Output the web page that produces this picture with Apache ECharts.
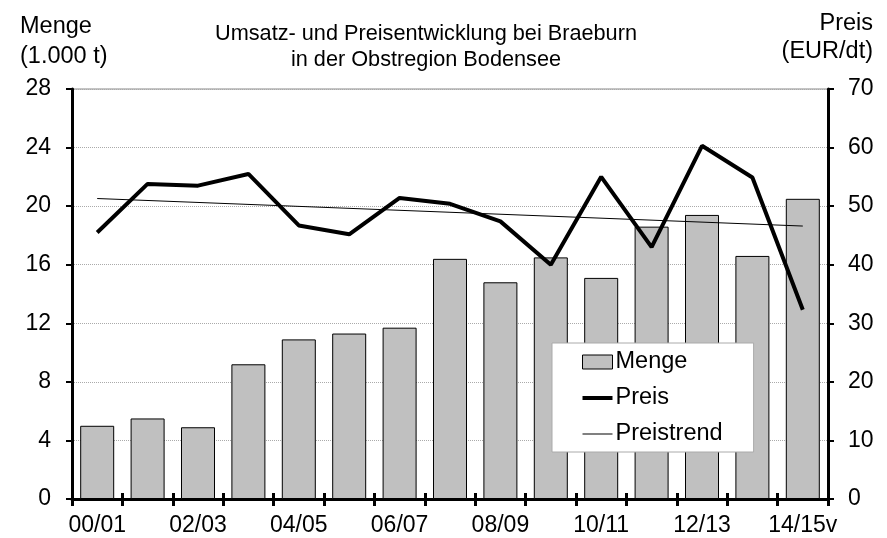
<!DOCTYPE html>
<html>
<head>
<meta charset="utf-8">
<script src="https://cdn.jsdelivr.net/npm/echarts@6/dist/echarts.min.js"></script>
<style>
html, body { margin: 0; padding: 0; background: #fff; }
#chart { width: 887px; height: 538px; }
</style>
</head>
<body>
<div id="chart"></div>
<script>
// Wirtschaftsjahre
var jahre = ['00/01', '01/02', '02/03', '03/04', '04/05', '05/06', '06/07', '07/08',
  '08/09', '09/10', '10/11', '11/12', '12/13', '13/14', '14/15v'];
// Menge in 1.000 t
var menge = [5.0, 5.5, 4.9, 9.2, 10.9, 11.3, 11.7, 16.4, 14.8, 16.5, 15.1, 18.6, 19.4, 16.6, 20.5];
// Preis in EUR/dt
var preis = [45.5, 53.8, 53.5, 55.5, 46.7, 45.2, 51.4, 50.4, 47.4, 40.0, 55.0, 43.0, 60.3, 54.9, 32.3];
// Preistrend: Anfangs- und Endwert
var preistrend = [51.3, null, null, null, null, null, null, null, null, null, null, null, null, null, 46.6];
// Achsen
var mengeTicks = { min: 0, max: 28, interval: 4 };
var preisTicks = { min: 0, max: 70, interval: 10 };

var font = 'Liberation Sans, Arial, sans-serif';
var chart = echarts.init(document.getElementById('chart'));

function label(x, y, text, size, align) {
  return {
    type: 'text', x: x, y: y,
    style: { text: text, font: size + 'px ' + font, fill: '#000', align: align, verticalAlign: 'middle' }
  };
}

chart.setOption({
  animation: false,
  textStyle: { fontFamily: font, color: '#000' },
  grid: {
    left: 72, right: 59, top: 89, bottom: 39,
    show: true, borderColor: '#888', borderWidth: 1
  },
  graphic: [
    label(20, 27, 'Menge', 23.5, 'left'),
    label(20, 57, '(1.000 t)', 23.5, 'left'),
    label(873, 24, 'Preis', 23.5, 'right'),
    label(873, 52, '(EUR/dt)', 23.5, 'right'),
    label(426, 34, 'Umsatz- und Preisentwicklung bei Braeburn', 21.7, 'center'),
    label(426, 60, 'in der Obstregion Bodensee', 21.7, 'center')
  ],
  legend: {
    orient: 'vertical',
    left: 552,
    top: 343,
    padding: [7, 31, 6, 30],
    itemGap: 12,
    itemWidth: 30,
    itemHeight: 14,
    backgroundColor: '#fff',
    borderColor: '#aaa',
    borderWidth: 1,
    borderRadius: 0,
    textStyle: { fontSize: 23.5, fontFamily: font, color: '#000', padding: [0, 0, 0, -2] },
    data: [
      { name: 'Menge', icon: 'rect', itemStyle: { color: '#c0c0c0', borderColor: '#000', borderWidth: 1 } },
      { name: 'Preis', icon: 'path://M0,0H30V4H0Z', itemStyle: { color: '#000', borderWidth: 0 } },
      { name: 'Preistrend', icon: 'path://M0,0H30V1H0Z', itemStyle: { color: '#000', borderWidth: 0 } }
    ]
  },
  xAxis: [
    {
      type: 'category',
      data: jahre,
      axisLine: { lineStyle: { color: '#000', width: 3 } },
      axisTick: { show: true, interval: 0, length: 7, lineStyle: { color: '#000', width: 3 } },
      axisLabel: { interval: 1, fontSize: 23, color: '#000', margin: 15 }
    },
    {
      type: 'category',
      data: jahre,
      position: 'bottom',
      axisLine: { show: false },
      axisTick: { show: true, inside: true, interval: 0, length: 6, lineStyle: { color: '#000', width: 3 } },
      axisLabel: { show: false }
    }
  ],
  yAxis: [
    {
      type: 'value',
      min: mengeTicks.min, max: mengeTicks.max, interval: mengeTicks.interval,
      axisLine: { show: true, lineStyle: { color: '#000', width: 3 } },
      axisTick: { show: true, length: 6, lineStyle: { color: '#000', width: 2 } },
      axisLabel: { fontSize: 23, color: '#000', margin: 21 },
      splitLine: { show: true, lineStyle: { color: '#aaa', type: 'dotted', width: 1 } }
    },
    {
      type: 'value',
      min: preisTicks.min, max: preisTicks.max, interval: preisTicks.interval,
      position: 'right',
      axisLine: { show: true, lineStyle: { color: '#000', width: 3 } },
      axisTick: { show: true, length: 6, lineStyle: { color: '#000', width: 2 } },
      axisLabel: { fontSize: 23, color: '#000', margin: 20 },
      splitLine: { show: false }
    }
  ],
  series: [
    {
      name: 'Menge',
      type: 'bar',
      data: menge,
      barWidth: 34,
      itemStyle: { color: '#c0c0c0', borderColor: '#000', borderWidth: 1 }
    },
    {
      name: 'Preis',
      type: 'line',
      yAxisIndex: 1,
      data: preis,
      symbol: 'none',
      lineStyle: { color: '#000', width: 4 },
      itemStyle: { color: '#000' }
    },
    {
      name: 'Preistrend',
      type: 'line',
      yAxisIndex: 1,
      data: preistrend,
      connectNulls: true,
      symbol: 'none',
      lineStyle: { color: '#000', width: 1 },
      itemStyle: { color: '#000' }
    }
  ]
});
</script>
</body>
</html>
